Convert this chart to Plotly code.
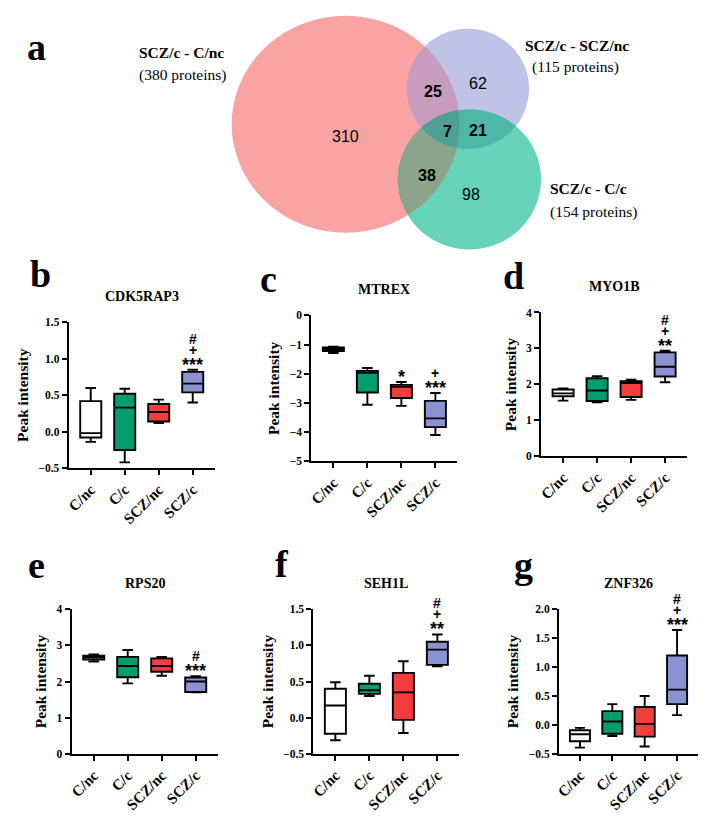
import numpy as np
import plotly.graph_objects as go

W, H = 720, 825

# ---------------- data ----------------
groups = ["C/nc", "C/c", "SCZ/nc", "SCZ/c"]
group_colors = ["#FFFFFF", "#009E6E", "#F43D3D", "#8A93D2"]

venn_set_names = ["SCZ/c - C/nc", "SCZ/c - SCZ/nc", "SCZ/c - C/c"]
venn_set_sizes = [380, 115, 154]
venn_region_names = ["C/nc only", "SCZ/nc only", "C/c only",
                     "C/nc & SCZ/nc", "C/nc & C/c", "SCZ/nc & C/c", "all three"]
venn_region_counts = [310, 62, 98, 25, 38, 21, 7]
venn_region_bold = [False, False, False, True, True, True, True]

genes = ["CDK5RAP3", "MTREX", "MYO1B", "RPS20", "SEH1L", "ZNF326"]
panel_letters = ["b", "c", "d", "e", "f", "g"]

cdk5rap3_low = [-0.14, -0.42, 0.12, 0.40]
cdk5rap3_q1 = [-0.08, -0.25, 0.14, 0.54]
cdk5rap3_med = [-0.02, 0.33, 0.27, 0.66]
cdk5rap3_q3 = [0.42, 0.52, 0.38, 0.82]
cdk5rap3_high = [0.60, 0.59, 0.44, 0.85]

mtrex_low = [-1.29, -3.06, -3.10, -4.10]
mtrex_q1 = [-1.22, -2.64, -2.83, -3.83]
mtrex_med = [-1.15, -1.97, -2.45, -3.53]
mtrex_q3 = [-1.10, -1.90, -2.38, -2.93]
mtrex_high = [-1.07, -1.80, -2.28, -2.66]

myo1b_low = [1.55, 1.50, 1.57, 2.06]
myo1b_q1 = [1.67, 1.54, 1.65, 2.22]
myo1b_med = [1.75, 1.83, 2.04, 2.49]
myo1b_q3 = [1.86, 2.17, 2.09, 2.89]
myo1b_high = [1.89, 2.23, 2.13, 2.94]

rps20_low = [2.55, 1.95, 2.16, 1.70]
rps20_q1 = [2.61, 2.12, 2.27, 1.71]
rps20_med = [2.67, 2.43, 2.43, 2.00]
rps20_q3 = [2.71, 2.68, 2.64, 2.11]
rps20_high = [2.75, 2.87, 2.68, 2.15]

seh1l_low = [-0.31, 0.30, -0.21, 0.71]
seh1l_q1 = [-0.22, 0.33, -0.03, 0.73]
seh1l_med = [0.17, 0.38, 0.35, 0.94]
seh1l_q3 = [0.40, 0.47, 0.62, 1.05]
seh1l_high = [0.49, 0.58, 0.78, 1.15]

znf326_low = [-0.39, -0.19, -0.37, 0.17]
znf326_q1 = [-0.28, -0.15, -0.20, 0.36]
znf326_med = [-0.16, 0.06, 0.02, 0.61]
znf326_q3 = [-0.09, 0.24, 0.31, 1.20]
znf326_high = [-0.05, 0.36, 0.50, 1.64]

# significance marks per group, listed bottom to top
cdk5rap3_sig = [[], [], [], ["***", "+", "#"]]
mtrex_sig = [[], [], ["*"], ["***", "+"]]
myo1b_sig = [[], [], [], ["**", "+", "#"]]
rps20_sig = [[], [], [], ["***", "#"]]
seh1l_sig = [[], [], [], ["**", "+", "#"]]
znf326_sig = [[], [], [], ["***", "+", "#"]]

y_ranges = [[-0.5, 1.5], [-5, 0], [0, 4], [0, 4], [-0.5, 1.5], [-0.5, 2.0]]
y_dticks = [0.5, 1, 1, 1, 0.5, 0.5]
y_formats = [".1f", "d", "d", "d", ".1f", ".1f"]

# ---------------- layout geometry (pixels) ----------------
panel_px = [  # x0, x1, ytop, ybottom
    (65, 212, 321, 469),
    (309, 456, 314, 462),
    (540, 687, 311, 457),
    (68, 215, 612, 759),
    (311, 458, 612, 759),
    (558, 698, 612, 759),
]
letter_px = [(37, 272), (266, 277), (512, 274), (33, 567), (280, 566), (522, 567)]

SERIF = "Liberation Serif"
SANS = "Liberation Sans"
LW = 1.9

fig = go.Figure()

stats = [
    (cdk5rap3_low, cdk5rap3_q1, cdk5rap3_med, cdk5rap3_q3, cdk5rap3_high, cdk5rap3_sig),
    (mtrex_low, mtrex_q1, mtrex_med, mtrex_q3, mtrex_high, mtrex_sig),
    (myo1b_low, myo1b_q1, myo1b_med, myo1b_q3, myo1b_high, myo1b_sig),
    (rps20_low, rps20_q1, rps20_med, rps20_q3, rps20_high, rps20_sig),
    (seh1l_low, seh1l_q1, seh1l_med, seh1l_q3, seh1l_high, seh1l_sig),
    (znf326_low, znf326_q1, znf326_med, znf326_q3, znf326_high, znf326_sig),
]

annotations = []
layout_axes = {}
for i, (lo, q1, med, q3, hi, sig) in enumerate(stats):
    n = i + 1
    xa, ya = f"x{n}", f"y{n}"
    for j, g in enumerate(groups):
        fig.add_trace(go.Box(
            x=[g], q1=[q1[j]], median=[med[j]], q3=[q3[j]],
            lowerfence=[lo[j]], upperfence=[hi[j]],
            fillcolor=group_colors[j], line=dict(color="black", width=LW),
            whiskerwidth=0.5, width=0.62, boxpoints=False,
            xaxis=xa, yaxis=ya, showlegend=False, name=g,
        ))
        offsets = [9, 20, 31]
        for k, mark in enumerate(sig[j]):
            star = mark.startswith("*")
            annotations.append(dict(
                x=g, y=hi[j], xref=xa, yref=ya, text=mark, showarrow=False,
                yanchor="middle", yshift=offsets[k] - (4 if star else 0),
                font=dict(family=SANS, size=18 if star else 14,
                          color="black", weight="bold"),
            ))
    x0, x1, yt, yb = panel_px[i]
    xkey = "xaxis" if n == 1 else f"xaxis{n}"
    ykey = "yaxis" if n == 1 else f"yaxis{n}"
    layout_axes[xkey] = dict(
        domain=[x0 / W, x1 / W], anchor=ya, type="category",
        categoryorder="array", categoryarray=groups, range=[-0.65, 3.65],
        showline=True, linecolor="black", linewidth=LW, ticks="outside",
        ticklen=5, tickwidth=LW, tickcolor="black", tickangle=-45,
        showgrid=False, zeroline=False,
        tickfont=dict(family=SERIF, size=15, color="black", weight="bold"),
    )
    layout_axes[ykey] = dict(
        domain=[1 - yb / H, 1 - yt / H], anchor=xa, range=y_ranges[i],
        dtick=y_dticks[i], tick0=0, tickformat=y_formats[i],
        showline=True, linecolor="black", linewidth=LW, ticks="outside",
        ticklen=5, tickwidth=LW, tickcolor="black",
        showgrid=False, zeroline=False,
        tickfont=dict(family=SERIF, size=11.5, color="black", weight="bold"),
        title=dict(text="Peak intensity", standoff=6,
                   font=dict(family=SERIF, size=15.5, color="black", weight="bold")),
    )
    # panel title
    annotations.append(dict(
        x=(x0 + x1) / 2 / W, y=1 - (yt - 26) / H, xref="paper", yref="paper",
        text=genes[i], showarrow=False, xanchor="center", yanchor="middle",
        font=dict(family=SERIF, size=14, color="black", weight="bold"),
    ))
    lx, ly = letter_px[i]
    annotations.append(dict(
        x=lx / W, y=1 - ly / H, xref="paper", yref="paper", text=panel_letters[i],
        showarrow=False, xanchor="center", yanchor="middle",
        font=dict(family=SERIF, size=38, color="black", weight="bold"),
    ))

# ---------------- Venn diagram ----------------
venn_ellipses = [  # cx, cy, rx, ry in pixels
    (343.5, 120.0, 114.5, 110.0),
    (466.5, 84.0, 61.5, 61.0),
    (468.0, 176.0, 72.0, 71.0),
]
region_fill = {
    (0,): "#F9A3A3", (1,): "#BFC3E8", (2,): "#66D2B9",
    (0, 1): "#C89CBF", (0, 2): "#8CA48B", (1, 2): "#4DB8A8", (0, 1, 2): "#4F9F95",
}


def ellipse_pts(e, n=720):
    cx, cy, rx, ry = e
    t = np.linspace(0, 2 * np.pi, n, endpoint=False)
    return np.c_[cx + rx * np.cos(t), cy + ry * np.sin(t)]


def inside(p, e):
    cx, cy, rx, ry = e
    return ((p[:, 0] - cx) / rx) ** 2 + ((p[:, 1] - cy) / ry) ** 2 <= 1 + 1e-9


def region_pts(idx):
    es = [venn_ellipses[k] for k in idx]
    pts = []
    for a, e in enumerate(es):
        p = ellipse_pts(e)
        m = np.ones(len(p), bool)
        for b, o in enumerate(es):
            if b != a:
                m &= inside(p, o)
        pts.append(p[m])
    pts = np.vstack(pts)
    c = pts.mean(axis=0)
    ang = np.arctan2(pts[:, 1] - c[1], pts[:, 0] - c[0])
    return pts[np.argsort(ang)]


def to_path(pts):
    return "M " + " L ".join(f"{x / W:.5f},{1 - y / H:.5f}" for x, y in pts) + " Z"


shapes = []
for idx, col in region_fill.items():
    shapes.append(dict(type="path", path=to_path(region_pts(idx)), xref="paper", yref="paper",
                       fillcolor=col, line=dict(width=0), layer="below"))

venn_label_px = [(343, 132), (477, 79), (470, 191), (431, 87), (425, 172), (477, 126), (446, 127)]
for (px, py), cnt, bold in zip(venn_label_px, venn_region_counts, venn_region_bold):
    annotations.append(dict(
        x=px / W, y=1 - py / H, xref="paper", yref="paper", text=str(cnt),
        showarrow=False, xanchor="center", yanchor="middle",
        font=dict(family=SANS, size=16, color="black", weight="bold" if bold else "normal"),
    ))

set_label_px = [(134, 47, 134, 70), (522, 40, 529, 62), (547, 185, 547, 209)]
for (px1, py1, px2, py2), name, size in zip(set_label_px, venn_set_names, venn_set_sizes):
    annotations.append(dict(
        x=px1 / W, y=1 - py1 / H, xref="paper", yref="paper", text=name,
        showarrow=False, xanchor="left", yanchor="middle",
        font=dict(family=SERIF, size=15.5, color="black", weight="bold"),
    ))
    annotations.append(dict(
        x=px2 / W, y=1 - py2 / H, xref="paper", yref="paper", text=f"({size} proteins)",
        showarrow=False, xanchor="left", yanchor="middle",
        font=dict(family=SERIF, size=15.5, color="black"),
    ))
annotations.append(dict(
    x=33 / W, y=1 - 42 / H, xref="paper", yref="paper", text="a", showarrow=False,
    xanchor="center", yanchor="middle",
    font=dict(family=SERIF, size=38, color="black", weight="bold"),
))

fig.update_layout(
    width=W, height=H, margin=dict(l=0, r=0, t=0, b=0),
    paper_bgcolor="white", plot_bgcolor="rgba(0,0,0,0)",
    showlegend=False, annotations=annotations, shapes=shapes,
    boxmode="overlay",
    **layout_axes,
)

fig.write_html("out.html", config={"displayModeBar": False},
               post_script="document.body.style.margin='0px';")
